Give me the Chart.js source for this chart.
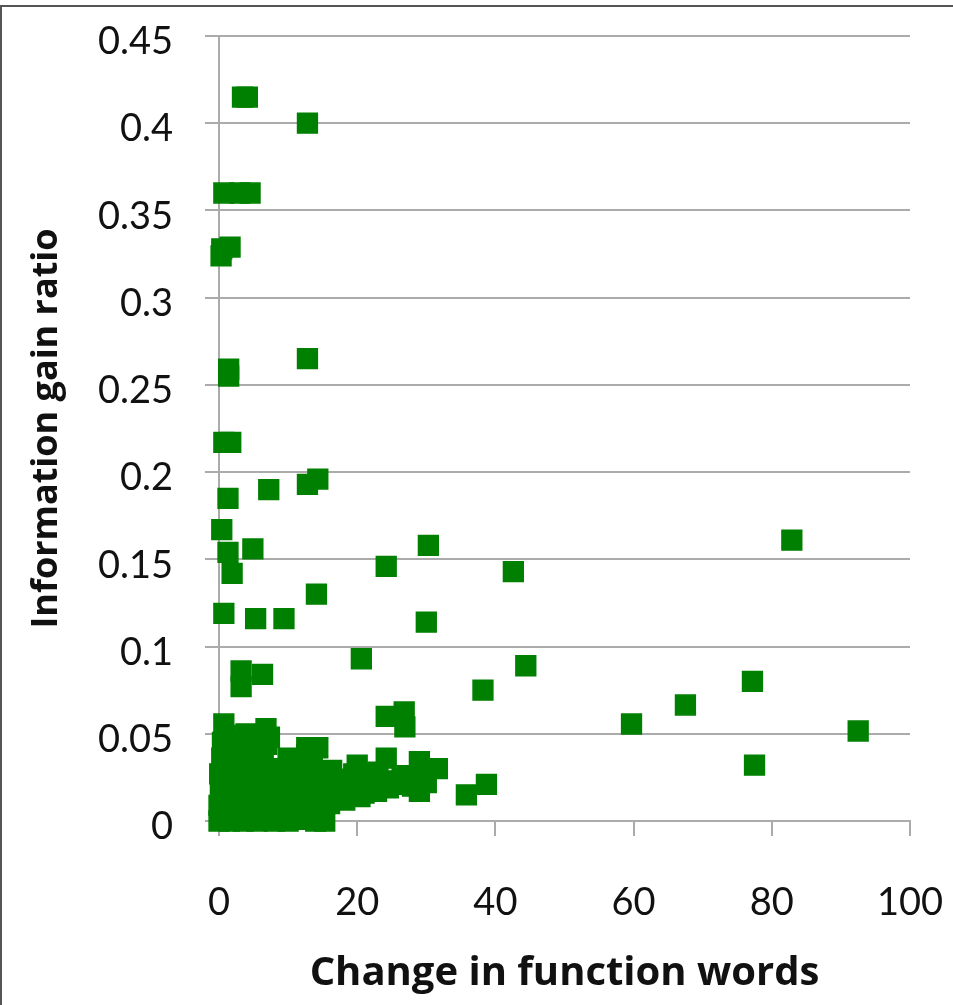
<!DOCTYPE html>
<html>
<head>
<meta charset="utf-8">
<script src="https://cdn.jsdelivr.net/npm/chart.js@4.4.1/dist/chart.umd.min.js"></script>
<style>
  html, body { margin: 0; padding: 0; background: #fff; }
  #wrap { position: relative; width: 953px; height: 1005px; overflow: hidden; }
  #frame { position: absolute; left: 0; top: 5px; width: 960px; height: 1010px;
           border-top: 2px solid #555; border-left: 2px solid #555; pointer-events: none; }
  canvas { position: absolute; left: 0; top: 0; }
</style>
</head>
<body>
<div id="wrap">
  <canvas id="c" width="953" height="1005"></canvas>
  <div id="frame"></div>
</div>
<script>
// ---- data ----
const xTickValues = [0, 20, 40, 60, 80, 100];
const yTickValues = [0, 0.05, 0.1, 0.15, 0.2, 0.25, 0.3, 0.35, 0.4, 0.45];
const yTickLabels = ["0", "0.05", "0.1", "0.15", "0.2", "0.25", "0.3", "0.35", "0.4", "0.45"];

// scattered points (change in function words, information gain ratio)
const outlierX = [3.4, 4.1, 12.8, 0.7, 3.0, 4.5, 0.4, 1.6, 0.3, 12.8, 1.4, 1.4, 0.7, 1.7, 1.3, 7.2, 12.8, 14.3,
  0.4, 4.9, 1.3, 1.9, 30.3, 24.2, 42.6, 82.9, 14.1, 0.7, 5.3, 9.4, 30.0, 20.6, 44.4, 3.2, 3.2, 6.3, 38.2,
  77.2, 67.5, 59.7, 92.5, 77.5, 24.2, 26.8, 26.9, 24.2, 29.0, 31.6, 35.8, 38.7, 29.0, 29.0, 24.5];
const outlierY = [0.415, 0.415, 0.400, 0.360, 0.360, 0.360, 0.328, 0.329, 0.324, 0.265, 0.259, 0.255, 0.217, 0.217, 0.185, 0.190, 0.193, 0.196,
  0.167, 0.156, 0.154, 0.142, 0.158, 0.146, 0.143, 0.161, 0.130, 0.119, 0.116, 0.116, 0.114, 0.093, 0.089, 0.086, 0.077, 0.084, 0.075,
  0.080, 0.0665, 0.0556, 0.0516, 0.032, 0.060, 0.0625, 0.054, 0.036, 0.034, 0.030, 0.015, 0.021, 0.024, 0.017, 0.019];

// dense cluster near the origin
const clusterX = [0, 0.3, 0, 0.5, 0.2, 0.6, 0.1, 0.7, 0.4, 0.8, 0.5, 0.9, 0.7,
  2, 2.5, 1.8, 3, 2.2, 3.4, 2.6, 3.8, 3.2, 3.9,
  5, 5.6, 4.8, 6.2, 5.3, 6.6, 5.8, 6.4, 6.9, 6.8, 7.3,
  8, 8.7, 9.5, 8.3, 9.8, 8.9, 10.2, 10,
  11, 12, 11.4, 12.6, 11.8, 13.2, 12.3, 13.5, 12.7, 12.7, 14.3, 14, 13.6, 14.5,
  15.3, 15, 16, 15.6, 16.8, 15.4, 16.3, 17.2, 17.5,
  18.2, 19, 18.5, 19.5, 20, 20.4,
  21, 21.6, 22.3, 22.8, 23,
  25, 26, 26.5, 28, 30,
  1.5, 3.5, 5.5, 7.0, 10.0, 12.5, 14.0, 1.2, 4.2, 7.8, 9.2, 10.8,
  3.0, 6.0, 8.2, 11.2, 1.8, 4.5, 7.2, 9.0, 11.6, 13.8, 2.4, 5.2];
const clusterY = [0, 0.004, 0.009, 0.013, 0.018, 0.022, 0.027, 0.031, 0.036, 0.040, 0.045, 0.049, 0.0556,
  0.002, 0.008, 0.014, 0.019, 0.025, 0.030, 0.035, 0.041, 0.046, 0.050,
  0.001, 0.007, 0.012, 0.017, 0.023, 0.028, 0.033, 0.039, 0.044, 0.053, 0.048,
  0, 0.006, 0.011, 0.016, 0.021, 0.026, 0.031, 0.036,
  0.002, 0.005, 0.010, 0.014, 0.019, 0.024, 0.029, 0.034, 0.038, 0.042, 0.042, 0.015, 0.003, 0.009,
  0, 0.006, 0.010, 0.016, 0.020, 0.025, 0.029, 0.013, 0.024,
  0.012, 0.017, 0.022, 0.027, 0.032, 0.014,
  0.016, 0.021, 0.026, 0.017, 0.028,
  0.023, 0.021, 0.026, 0.020, 0.022,
  0, 0, 0, 0.002, 0, 0.001, 0, 0.024, 0.021, 0.012, 0.018, 0.026,
  0.011, 0.015, 0.022, 0.017, 0.032, 0.028, 0.030, 0.008, 0.022, 0.028, 0.040, 0.036];

const points = [];
clusterX.forEach((x, i) => points.push({ x: x, y: clusterY[i] }));
outlierX.forEach((x, i) => points.push({ x: x, y: outlierY[i] }));

const TICK_FONT = "Lato, 'Open Sans', sans-serif";
const TITLE_FONT = "'Open Sans', Lato, sans-serif";
const gridColor = '#ababab';

new Chart(document.getElementById('c'), {
  type: 'scatter',
  data: {
    datasets: [{
      data: points,
      pointStyle: 'rect',
      pointRadius: 14,
      pointHoverRadius: 14,
      backgroundColor: '#008000',
      borderColor: '#008000',
      borderWidth: 1.5,
      clip: false
    }]
  },
  options: {
    responsive: false,
    animation: false,
    events: [],
    layout: { padding: { top: 36, right: 43, left: 0, bottom: 0 } },
    plugins: { legend: { display: false }, tooltip: { enabled: false } },
    scales: {
      x: {
        type: 'linear',
        min: 0, max: 100,
        afterBuildTicks: s => { s.ticks = xTickValues.map(v => ({ value: v })); },
        afterFit: s => { s.height = 184; s.paddingLeft = 0; s.paddingRight = 0; },
        grid: { drawOnChartArea: false, drawTicks: true, tickLength: 15, color: gridColor, lineWidth: 2 },
        border: { display: true, color: gridColor, width: 2 },
        ticks: { color: '#111', font: { family: TICK_FONT, size: 38 }, padding: 44, maxRotation: 0 },
        title: { display: true, text: 'Change in function words', color: '#111',
                 font: { family: TITLE_FONT, size: 40, weight: 'bold' }, padding: { top: 0, bottom: 7 } }
      },
      y: {
        type: 'linear',
        min: 0, max: 0.45,
        afterBuildTicks: s => { s.ticks = yTickValues.map(v => ({ value: v })); },
        afterFit: s => { s.width = 219; s.paddingTop = 0; s.paddingBottom = 0; },
        grid: { drawOnChartArea: true, drawTicks: true, tickLength: 14, color: gridColor, lineWidth: 2 },
        border: { display: true, color: gridColor, width: 2 },
        ticks: { color: '#111', font: { family: TICK_FONT, size: 38 }, padding: 32, labelOffset: 6,
                 callback: (v, i) => yTickLabels[i] },
        title: { display: true, text: 'Information gain ratio', color: '#111',
                 font: { family: TITLE_FONT, size: 36, weight: 'bold' }, padding: { top: 25, bottom: 0 } }
      }
    }
  }
});
</script>
</body>
</html>
